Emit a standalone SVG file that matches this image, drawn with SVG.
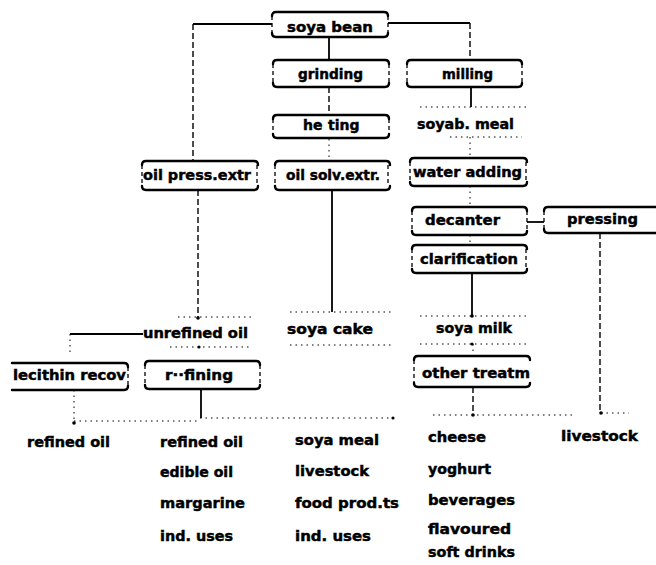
<svg xmlns="http://www.w3.org/2000/svg" width="656" height="565" viewBox="0 0 656 565">
  <style>
    .bg { fill: #ffffff; }
    text { font-family: "DejaVu Sans", "Liberation Sans", sans-serif; font-weight: bold; font-size: 14px; fill: #000; stroke: #000; stroke-width: 0.45; }
    .edge { fill: none; stroke: #000; stroke-width: 2.4; stroke-linecap: round; stroke-linejoin: round; }
    .side { fill: none; stroke: #000; stroke-width: 1.3; stroke-dasharray: 4 3; }
    .solid { fill: none; stroke: #000; stroke-width: 1.8; }
    .dash { fill: none; stroke: #000; stroke-width: 1.4; stroke-dasharray: 6 3; }
    .dot { fill: none; stroke: #000; stroke-width: 1; stroke-dasharray: 1.5 4; }
    .pt { fill: #000; }
  </style>
  <rect class="bg" x="0" y="0" width="656" height="565"/>

  <!-- connectors -->
  <g id="connectors">
    <!-- soya bean to both side branches -->
    <path class="solid" d="M272 24 H193"/>
    <path class="dash" d="M193 24 V161"/>
    <path class="solid" d="M388 23 H470"/>
    <path class="dash" d="M470 23 V60"/>
    <!-- middle column -->
    <path class="solid" d="M329 37 V60"/>
    <path class="dash" d="M329 87 V115"/>
    <path class="dot" d="M329 139 V161"/>
    <path class="solid" d="M332 190 V312"/>
    <path class="dot" d="M290 312 H392"/>
    <path class="dot" d="M290 345 H392"/>
    <!-- right column -->
    <path class="solid" d="M471 87 V107"/>
    <path class="dot" d="M420 107 H526"/>
    <path class="dot" d="M450 137 H522"/>
    <path class="dot" d="M470 137 V158"/>
    <path class="dot" d="M470 186 V207"/>
    <path class="solid" d="M527 222 H544"/>
    <path class="dot" d="M470 235 V245"/>
    <path class="solid" d="M472 273 V316"/>
    <circle class="pt" cx="472" cy="316" r="1.8"/>
    <path class="dot" d="M420 316 H530"/>
    <path class="dot" d="M420 344 H530"/>
    <circle class="pt" cx="472" cy="344" r="1.6"/>
    <path class="dot" d="M473 344 V356"/>
    <path class="dash" d="M473 387 V415"/>
    <circle class="pt" cx="473" cy="415" r="1.8"/>
    <path class="dot" d="M433 415 H576"/>
    <!-- pressing branch -->
    <path class="dash" d="M600 233 V413"/>
    <circle class="pt" cx="601" cy="413" r="1.8"/>
    <path class="dot" d="M601 413 H629"/>
    <!-- left column -->
    <path class="dash" d="M198 190 V318"/>
    <circle class="pt" cx="198" cy="318" r="1.8"/>
    <path class="dot" d="M178 317 H252"/>
    <path class="solid" d="M143 334 H70"/>
    <path class="dot" d="M70 334 V352"/>
    <path class="dot" d="M170 347 H250"/>
    <circle class="pt" cx="199" cy="347" r="1.6"/>
    <path class="solid" d="M201 389 V418"/>
    <path class="dot" d="M200 418 H393"/>
    <circle class="pt" cx="393" cy="418" r="1.6"/>
    <path class="dot" d="M74 390 V423"/>
    <circle class="pt" cx="74" cy="423" r="1.8"/>
    <path class="dot" d="M74 421 H200"/>
  </g>

  <!-- boxed process steps -->
  <g id="soya-bean">
    <path class="edge" d="M272 16 Q272 12 276 12 H384 Q388 12 388 16 M272 33 Q272 37 276 37 H384 Q388 37 388 33"/>
    <path class="side" d="M272 16 V33 M388 16 V33"/>
    <text x="287" y="32" textLength="86" lengthAdjust="spacingAndGlyphs">soya bean</text>
  </g>
  <g id="grinding">
    <path class="edge" d="M273 64 Q273 60 277 60 H385 Q389 60 389 64 M273 83 Q273 87 277 87 H385 Q389 87 389 83"/>
    <path class="side" d="M273 64 V83 M389 64 V83"/>
    <text x="298" y="79" textLength="65" lengthAdjust="spacingAndGlyphs">grinding</text>
  </g>
  <g id="milling">
    <path class="edge" d="M407 64 Q407 60 411 60 H518 Q522 60 522 64 M407 83 Q407 87 411 87 H518 Q522 87 522 83"/>
    <path class="side" d="M407 64 V83 M522 64 V83"/>
    <text x="442" y="79" textLength="51" lengthAdjust="spacingAndGlyphs">milling</text>
  </g>
  <g id="heating">
    <path class="edge" d="M273 119 Q273 115 277 115 H385 Q389 115 389 119 M273 134 Q273 138 277 138 H385 Q389 138 389 134"/>
    <path class="side" d="M273 119 V134 M389 119 V134"/>
    <text x="303" y="130">he<tspan x="328">ting</tspan></text>
  </g>
  <g id="oil-press">
    <path class="edge" d="M142 165 Q142 161 146 161 H254 Q258 161 258 165 M142 186 Q142 190 146 190 H254 Q258 190 258 186"/>
    <path class="side" d="M142 165 V186 M257 165 V186"/>
    <text x="143" y="180" textLength="108" lengthAdjust="spacingAndGlyphs">oil press.extr</text>
  </g>
  <g id="oil-solv">
    <path class="edge" d="M275 165 Q275 161 279 161 H386 Q390 161 390 165 M275 186 Q275 190 279 190 H386 Q390 190 390 186"/>
    <path class="side" d="M275 165 V186 M388 165 V186"/>
    <text x="286" y="180" textLength="94" lengthAdjust="spacingAndGlyphs">oil solv.extr.</text>
  </g>
  <g id="water-adding">
    <path class="edge" d="M410 162 Q410 158 414 158 H523 Q527 158 527 162 M410 182 Q410 186 414 186 H523 Q527 186 527 182"/>
    <path class="side" d="M410 162 V182 M526 162 V182"/>
    <text x="413" y="177" textLength="109" lengthAdjust="spacingAndGlyphs">water adding</text>
  </g>
  <g id="decanter">
    <path class="edge" d="M412 211 Q412 207 416 207 H523 Q527 207 527 211 M412 231 Q412 235 416 235 H523 Q527 235 527 231"/>
    <path class="side" d="M412 211 V231 M527 211 V231"/>
    <text x="425" y="225" textLength="75" lengthAdjust="spacingAndGlyphs">decanter</text>
  </g>
  <g id="pressing">
    <path class="edge" d="M544 211 Q544 207 548 207 H660 M544 229 Q544 233 548 233 H660"/>
    <path class="side" d="M544 211 V229"/>
    <text x="567" y="224" textLength="71" lengthAdjust="spacingAndGlyphs">pressing</text>
  </g>
  <g id="clarification">
    <path class="edge" d="M412 249 Q412 245 416 245 H523 Q527 245 527 249 M412 269 Q412 273 416 273 H523 Q527 273 527 269"/>
    <path class="side" d="M412 249 V269 M526 249 V269"/>
    <text x="420" y="264" textLength="98" lengthAdjust="spacingAndGlyphs">clarification</text>
  </g>
  <g id="lecithin-recov">
    <path class="edge" d="M12 363 H124 Q128 363 128 367 M12 390 H124 Q128 390 128 386"/>
    <path class="side" d="M128 367 V386"/>
    <text x="13" y="380" textLength="113" lengthAdjust="spacingAndGlyphs">lecithin recov</text>
  </g>
  <g id="refining">
    <path class="edge" d="M145 365 Q145 361 149 361 H256 Q260 361 260 365 M145 385 Q145 389 149 389 H256 Q260 389 260 385"/>
    <path class="side" d="M145 365 V385 M260 365 V385"/>
    <text x="165" y="380" textLength="68" lengthAdjust="spacingAndGlyphs">r··fining</text>
  </g>
  <g id="other-treatment">
    <path class="edge" d="M414 360 Q414 356 418 356 H526 Q530 356 530 360 M414 383 Q414 387 418 387 H526 Q530 387 530 383"/>
    <path class="side" d="M414 360 V383"/>
    <text x="422" y="378" textLength="108" lengthAdjust="spacingAndGlyphs">other treatm</text>
  </g>

  <!-- intermediate products -->
  <g id="soyab-meal"><text x="417" y="129" textLength="97" lengthAdjust="spacingAndGlyphs">soyab. meal</text></g>
  <g id="unrefined-oil"><text x="143" y="338" textLength="105" lengthAdjust="spacingAndGlyphs">unrefined oil</text></g>
  <g id="soya-cake"><text x="287" y="334" textLength="86" lengthAdjust="spacingAndGlyphs">soya cake</text></g>
  <g id="soya-milk"><text x="436" y="333" textLength="76" lengthAdjust="spacingAndGlyphs">soya milk</text></g>

  <!-- end products -->
  <g id="products-lecithin">
    <text x="27" y="447" textLength="83" lengthAdjust="spacingAndGlyphs">refined oil</text>
  </g>
  <g id="products-refining">
    <text x="160" y="447" textLength="83" lengthAdjust="spacingAndGlyphs">refined oil</text>
    <text x="160" y="477" textLength="73" lengthAdjust="spacingAndGlyphs">edible oil</text>
    <text x="160" y="508" textLength="85" lengthAdjust="spacingAndGlyphs">margarine</text>
    <text x="160" y="541" textLength="73" lengthAdjust="spacingAndGlyphs">ind. uses</text>
  </g>
  <g id="products-soya-cake">
    <text x="295" y="445" textLength="84" lengthAdjust="spacingAndGlyphs">soya meal</text>
    <text x="295" y="476" textLength="74" lengthAdjust="spacingAndGlyphs">livestock</text>
    <text x="295" y="508" textLength="104" lengthAdjust="spacingAndGlyphs">food prod.ts</text>
    <text x="295" y="541" textLength="76" lengthAdjust="spacingAndGlyphs">ind. uses</text>
  </g>
  <g id="products-soya-milk">
    <text x="428" y="442" textLength="58" lengthAdjust="spacingAndGlyphs">cheese</text>
    <text x="428" y="474" textLength="63" lengthAdjust="spacingAndGlyphs">yoghurt</text>
    <text x="428" y="505" textLength="87" lengthAdjust="spacingAndGlyphs">beverages</text>
    <text x="428" y="534" textLength="83" lengthAdjust="spacingAndGlyphs">flavoured</text>
    <text x="428" y="557" textLength="87" lengthAdjust="spacingAndGlyphs">soft drinks</text>
  </g>
  <g id="products-pressing">
    <text x="561" y="441" textLength="77" lengthAdjust="spacingAndGlyphs">livestock</text>
  </g>
</svg>
